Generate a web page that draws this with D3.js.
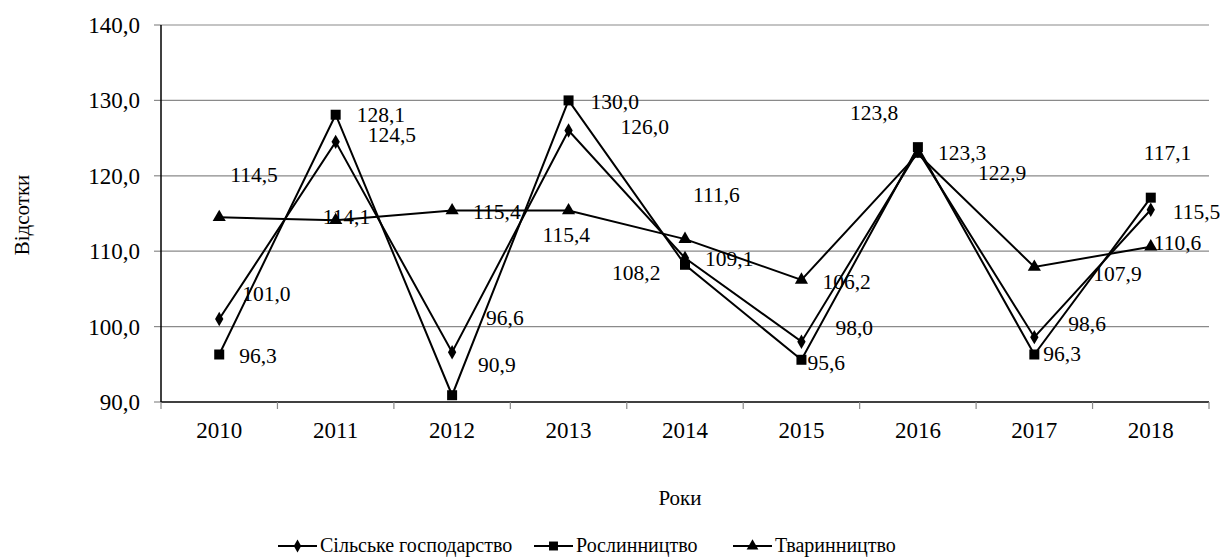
<!DOCTYPE html>
<html>
<head>
<meta charset="utf-8">
<title>chart</title>
<script src="https://cdn.jsdelivr.net/npm/d3@7"></script>
</head>
<body style="margin:0">
<div id="wrap"></div>
<script>
const years = ["2010","2011","2012","2013","2014","2015","2016","2017","2018"];
const agriculture = [101.0, 124.5, 96.6, 126.0, 109.1, 98.0, 123.3, 98.6, 115.5];
const cropProduction = [96.3, 128.1, 90.9, 130.0, 108.2, 95.6, 123.8, 96.3, 117.1];
const livestock = [114.5, 114.1, 115.4, 115.4, 111.6, 106.2, 122.9, 107.9, 110.6];
const seriesNames = ["Сільське господарство", "Рослинництво", "Тваринництво"];
const yTicks = [90, 100, 110, 120, 130, 140];

// label offsets (dx to text start, dy to text middle) per series/point
const labelOffsets = [
  [[23,-25],[32,-7],[34,-34],[52,-4],[20,1],[34,-14],[20,2],[34,-13],[22,2]],
  [[20,2],[21,0],[26,-30],[22,2],[-73,8],[6,3],[-68,-34],[9,0],[-7,-45]],
  [[11,-42],[-13,-3],[21,2],[-26,25],[8,-44],[21,2],[60,19],[59,7],[3,-4]]
];

const FONT_CSS = "'Liberation Serif', Tinos, Times, serif";
const svg = d3.select("#wrap").append("svg")
  .attr("width", 1220).attr("height", 557)
  .style("font-family", FONT_CSS, "important")
  .style("display", "block");
const margin = {left:161, right:1209, top:25, bottom:402};
const x = d3.scaleBand().domain(years).range([margin.left, margin.right]);
const y = d3.scaleLinear().domain([90,140]).range([margin.bottom, margin.top]);
const fmt = v => d3.format(".1f")(v).replace(".", ",");

function txt(sel, size){
  return sel.style("font-family", FONT_CSS, "important")
    .style("font-size", size + "px", "important")
    .attr("fill", "#000");
}

// gridlines
svg.append("g").selectAll("line").data(yTicks.filter(d=>d>90)).join("line")
  .attr("x1", margin.left).attr("x2", margin.right)
  .attr("y1", d=>y(d)).attr("y2", d=>y(d))
  .attr("stroke", "#8a8a8a").attr("stroke-width", 1.2);

// y axis ticks + labels
svg.append("g").selectAll("line").data(yTicks).join("line")
  .attr("x1", margin.left-7).attr("x2", margin.left)
  .attr("y1", d=>y(d)).attr("y2", d=>y(d))
  .attr("stroke", "#8a8a8a").attr("stroke-width", 1.2);
svg.append("line").attr("x1", margin.left).attr("x2", margin.left)
  .attr("y1", margin.top).attr("y2", margin.bottom).attr("stroke", "#000").attr("stroke-width", 1.5);
txt(svg.append("g").selectAll("text").data(yTicks).join("text")
  .attr("x", margin.left-21).attr("y", d=>y(d)+8)
  .attr("text-anchor", "end"), 23).text(d=>fmt(d));

// x axis
const xBoundaries = years.map((d,i)=>x(d)).concat([margin.right]);
svg.append("line").attr("x1", margin.left).attr("x2", margin.right)
  .attr("y1", margin.bottom).attr("y2", margin.bottom).attr("stroke", "#000").attr("stroke-width", 1.5);
svg.append("g").selectAll("line").data(xBoundaries).join("line")
  .attr("x1", d=>d).attr("x2", d=>d).attr("y1", margin.bottom).attr("y2", margin.bottom+7)
  .attr("stroke", "#8a8a8a").attr("stroke-width", 1.2);
txt(svg.append("g").selectAll("text").data(years).join("text")
  .attr("x", d=>x(d)+x.bandwidth()/2).attr("y", 438)
  .attr("text-anchor", "middle"), 23).text(d=>d);

// titles
txt(svg.append("text").attr("x", 680).attr("y", 505).attr("text-anchor","middle"), 21).text("Роки");
txt(svg.append("text").attr("transform", "translate(29,215) rotate(-90)").attr("text-anchor","middle"), 21).text("Відсотки");

const allSeries = [agriculture, cropProduction, livestock];
const line = d3.line().x((d,i)=>x(years[i])+x.bandwidth()/2).y(d=>y(d));
const symbols = [d3.symbolDiamond, d3.symbolSquare, d3.symbolTriangle];
const symSizes = [60, 100, 75];

allSeries.forEach((s, si) => {
  svg.append("path").datum(s).attr("d", line).attr("fill","none").attr("stroke","#000").attr("stroke-width", 2);
});
allSeries.forEach((s, si) => {
  svg.append("g").selectAll("path").data(s).join("path")
    .attr("transform", (d,i)=>`translate(${x(years[i])+x.bandwidth()/2},${y(d)})`)
    .attr("d", d3.symbol().type(symbols[si]).size(symSizes[si]))
    .attr("fill", "#000");
});
allSeries.forEach((s, si) => {
  txt(svg.append("g").selectAll("text").data(s).join("text")
    .attr("x", (d,i)=>x(years[i])+x.bandwidth()/2 + labelOffsets[si][i][0])
    .attr("y", (d,i)=>y(d) + labelOffsets[si][i][1] + 7), 21.5).text(d=>fmt(d));
});

// legend
const legendX = [278, 534, 733];
const legend = svg.append("g");
seriesNames.forEach((n, i) => {
  const g = legend.append("g").attr("transform", `translate(${legendX[i]},546)`);
  g.append("line").attr("x1",0).attr("x2",39).attr("y1",0).attr("y2",0).attr("stroke","#000").attr("stroke-width",2);
  g.append("path").attr("transform","translate(19.5,0)").attr("d", d3.symbol().type(symbols[i]).size(symSizes[i]*0.8)).attr("fill","#000");
  txt(g.append("text").attr("x", 42).attr("y", 6), 20).text(n);
});
</script>
</body>
</html>
